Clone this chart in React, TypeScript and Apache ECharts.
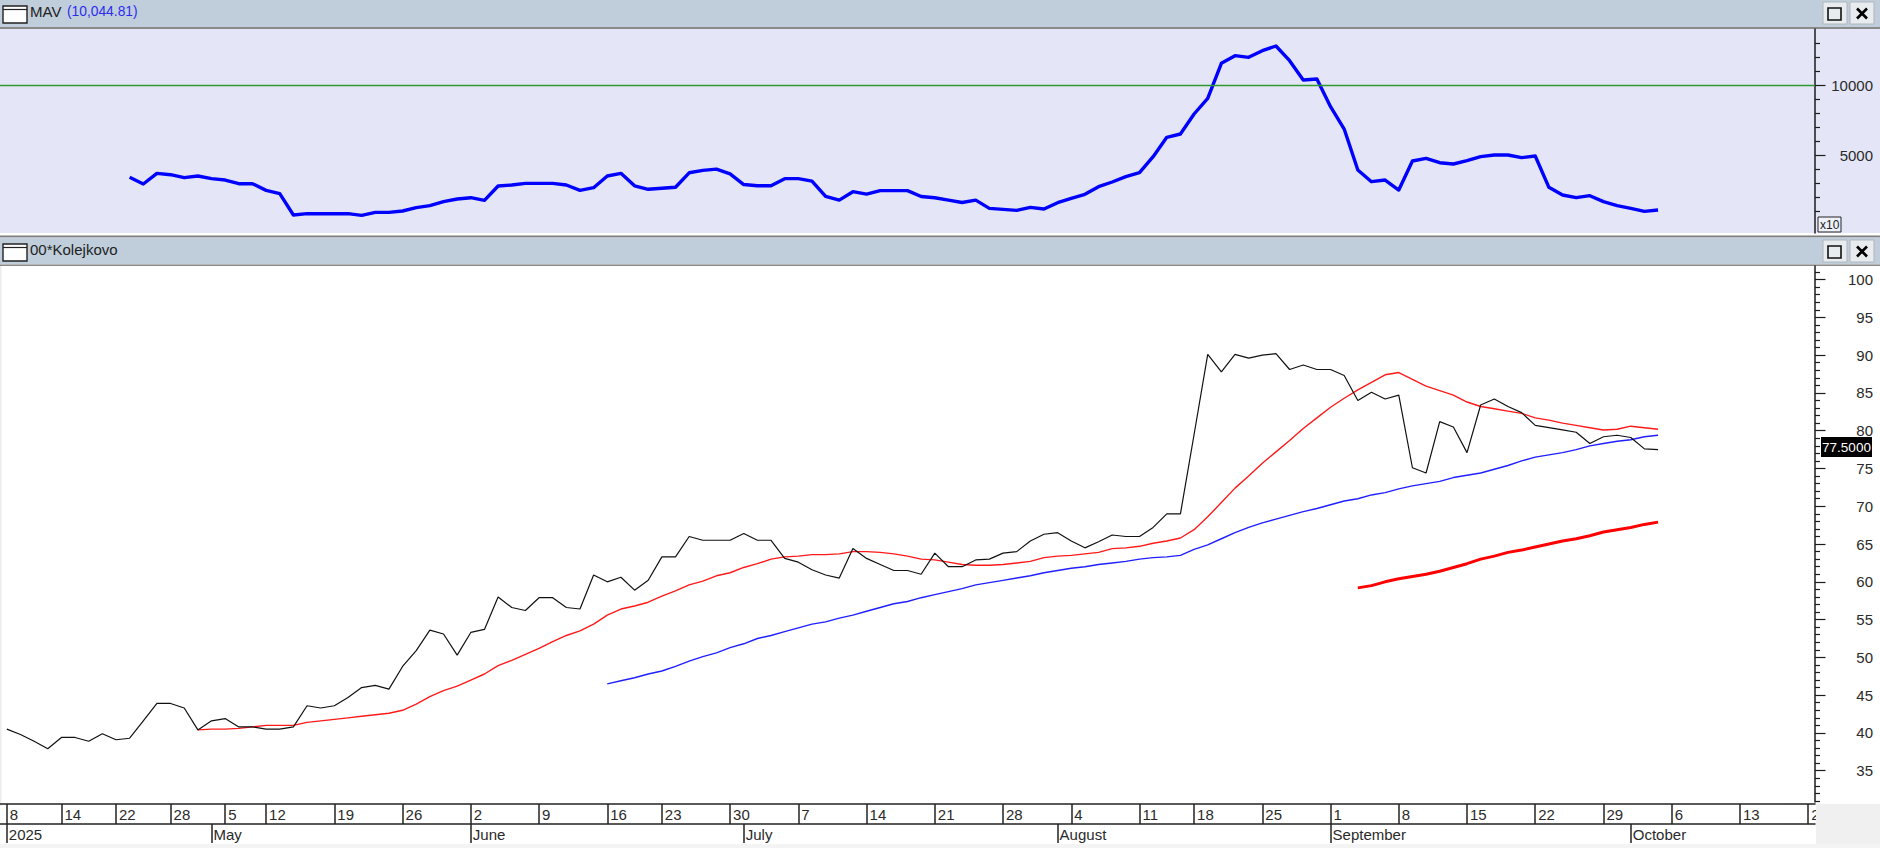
import React, { useEffect, useRef } from "react";
import * as echarts from "echarts";

const FONT = "Liberation Sans";

const tradingDays: [string, number[]][] = [
  ["04", [8, 9, 10, 11, 14, 15, 16, 17, 22, 23, 24, 25, 28, 29, 30]],
  ["05", [2, 5, 6, 7, 12, 13, 14, 15, 16, 19, 20, 21, 22, 23, 26, 27, 28, 29, 30]],
  ["06", [2, 3, 4, 5, 6, 9, 10, 11, 12, 13, 16, 17, 18, 20, 23, 24, 25, 26, 27, 30]],
  ["07", [1, 2, 3, 4, 7, 8, 9, 10, 11, 14, 15, 16, 17, 18, 21, 22, 23, 24, 25, 28, 29, 30, 31]],
  ["08", [1, 4, 5, 6, 7, 8, 11, 12, 13, 14, 18, 19, 20, 21, 22, 25, 26, 27, 28, 29]],
  ["09", [1, 2, 3, 4, 5, 8, 9, 10, 11, 12, 15, 16, 17, 18, 19, 22, 23, 24, 25, 26, 29, 30]],
  ["10", [1, 2, 3, 6, 7, 8, 9, 10, 13, 14, 15, 16, 17, 20]],
];
const categories = tradingDays.flatMap(([m, ds]) => ds.map((d) => `2025-${m}-${String(d).padStart(2, "0")}`));

const weekStarts = [
  "2025-04-08", "2025-04-14", "2025-04-22", "2025-04-28", "2025-05-05", "2025-05-12", "2025-05-19", "2025-05-26",
  "2025-06-02", "2025-06-09", "2025-06-16", "2025-06-23", "2025-06-30", "2025-07-07", "2025-07-14", "2025-07-21",
  "2025-07-28", "2025-08-04", "2025-08-11", "2025-08-18", "2025-08-25", "2025-09-01", "2025-09-08", "2025-09-15",
  "2025-09-22", "2025-09-29", "2025-10-06", "2025-10-13", "2025-10-20",
];
const monthStarts: Record<string, string> = {
  "2025-04-08": "2025", "2025-05-02": "May", "2025-06-02": "June", "2025-07-01": "July",
  "2025-08-01": "August", "2025-09-01": "September", "2025-10-01": "October",
};

const closeValues = [
  40.5, 39.8, 38.9, 37.9, 39.4, 39.4, 38.9, 39.9, 39.1, 39.3, 41.6, 43.9, 43.9, 43.3, 40.4, 41.6, 41.9, 40.8, 40.8, 40.5,
  40.5, 40.8, 43.6, 43.3, 43.6, 44.7, 46.0, 46.3, 45.8, 48.8, 50.9, 53.6, 53.1, 50.3, 53.3, 53.7, 58.0, 56.6, 56.2, 57.9,
  57.9, 56.6, 56.4, 60.9, 60.0, 60.6, 58.9, 60.2, 63.3, 63.3, 66.0, 65.5, 65.5, 65.5, 66.4, 65.5, 65.5, 63.1, 62.6, 61.6,
  60.9, 60.5, 64.4, 63.1, 62.3, 61.5, 61.5, 61.0, 63.8, 62.0, 62.0, 62.9, 63.0, 63.8, 64.0, 65.4, 66.3, 66.5, 65.4, 64.5,
  65.3, 66.2, 66.0, 66.0, 67.2, 69.0, 69.0, 79.5, 90.1, 87.8, 90.1, 89.6, 90.0, 90.2, 88.1, 88.7, 88.1, 88.1, 87.3, 84.0,
  85.1, 84.2, 84.7, 75.1, 74.4, 81.2, 80.5, 77.1, 83.4, 84.2, 83.2, 82.4, 80.7, 80.4, 80.1, 79.8, 78.3, 79.2, 79.4, 79.1,
  77.6, 77.5,
];
const fastAvgStart = 14;
const fastAvg = [
  40.4, 40.5, 40.5, 40.6, 40.8, 41.0, 41.0, 41.0, 41.4, 41.6, 41.8, 42.0, 42.2, 42.4, 42.6, 43.0, 43.8, 44.8, 45.6, 46.2,
  47.0, 47.8, 48.9, 49.6, 50.4, 51.2, 52.1, 52.9, 53.5, 54.4, 55.6, 56.4, 56.8, 57.3, 58.1, 58.8, 59.6, 60.1, 60.8, 61.2,
  61.9, 62.4, 63.0, 63.3, 63.4, 63.6, 63.6, 63.7, 64.0, 64.0, 63.9, 63.7, 63.4, 63.0, 62.9, 62.6, 62.3, 62.2, 62.2, 62.3,
  62.5, 62.7, 63.2, 63.4, 63.5, 63.7, 63.9, 64.4, 64.5, 64.7, 65.1, 65.4, 65.8, 66.9, 68.6, 70.5, 72.4, 74.0, 75.7, 77.2,
  78.7, 80.3, 81.7, 83.1, 84.3, 85.4, 86.4, 87.4, 87.7, 86.8, 85.9, 85.3, 84.7, 83.8, 83.2, 82.9, 82.6, 82.3, 81.7, 81.4,
  81.0, 80.7, 80.4, 80.1, 80.2, 80.6, 80.4, 80.2,
];
const slowAvgStart = 44;
const slowAvg = [
  46.5, 46.9, 47.3, 47.8, 48.2, 48.8, 49.5, 50.1, 50.6, 51.3, 51.8, 52.5, 52.9, 53.4, 53.9, 54.4, 54.7, 55.2, 55.6, 56.1,
  56.6, 57.1, 57.4, 57.9, 58.3, 58.7, 59.1, 59.6, 59.9, 60.2, 60.5, 60.8, 61.2, 61.5, 61.8, 62.0, 62.3, 62.5, 62.7, 63.0,
  63.2, 63.3, 63.5, 64.3, 64.9, 65.7, 66.5, 67.2, 67.8, 68.3, 68.8, 69.3, 69.7, 70.2, 70.7, 71.0, 71.5, 71.8, 72.3, 72.7,
  73.0, 73.3, 73.8, 74.1, 74.4, 74.9, 75.4, 76.0, 76.5, 76.8, 77.1, 77.5, 78.0, 78.3, 78.6, 78.8, 79.2, 79.4,
];
const longAvgStart = 99;
const longAvg = [
  59.2, 59.5, 60.0, 60.4, 60.7, 61.0, 61.4, 61.9, 62.4, 63.0, 63.4, 63.9, 64.2, 64.6, 65.0, 65.4, 65.7, 66.1, 66.6, 66.9,
  67.2, 67.6, 67.9,
];
const mavStart = 9;
const mavValues = [
  3405, 2928, 3690, 3595, 3381, 3500, 3310, 3214, 2952, 2952, 2476, 2238, 714, 810, 810, 810, 810, 690, 905, 905,
  1000, 1238, 1381, 1667, 1857, 1952, 1762, 2786, 2857, 2976, 2976, 2976, 2857, 2476, 2667, 3500, 3690, 2800, 2550, 2630,
  2700, 3730, 3900, 3990, 3650, 2890, 2800, 2800, 3310, 3310, 3140, 2040, 1780, 2380, 2210, 2460, 2460, 2460, 2040, 1950,
  1780, 1610, 1780, 1190, 1119, 1048, 1262, 1143, 1595, 1905, 2191, 2738, 3072, 3453, 3738, 4881, 6262, 6500, 7929, 9048,
  11548, 12096, 11977, 12453, 12786, 11738, 10357, 10429, 8453, 6857, 3929, 3095, 3214, 2500, 4571, 4762, 4452, 4357, 4596, 4881,
  5000, 5000, 4810, 4929, 2691, 2143, 1952, 2095, 1667, 1381, 1191, 976, 1072,
];
const mavReference = 10000;
const lastCloseLabel = "77.5000";

const mavMajor = [5000, 10000];
const mavMinor = [1000, 2000, 3000, 4000, 6000, 7000, 8000, 9000, 11000, 12000, 13000];
const priceMajor = [35, 40, 45, 50, 55, 60, 65, 70, 75, 80, 85, 90, 95, 100];
const priceMinor = [
  31, 32, 33, 34, 36, 37, 38, 39, 41, 42, 43, 44, 46, 47, 48, 49, 51, 52, 53, 54, 56, 57, 58, 59, 61, 62, 63, 64, 66, 67,
  68, 69, 71, 72, 73, 74, 76, 77, 78, 79, 81, 82, 83, 84, 86, 87, 88, 89, 91, 92, 93, 94, 96, 97, 98, 99, 101,
];

const pad = (start: number, vals: number[]) => [...new Array(start).fill(null), ...vals];

const BAR = "#c0cedb";
const INK = "#1c1c1c";
const PANEL_W = 1815;
const MAV_RANGE = { min: -570, max: 14000 };
const PRICE_RANGE = { min: 30.86, max: 101.8 };

function chrome(yOff: number, z: number) {
  return [
    { type: "rect", z, shape: { x: 3, y: yOff + 6, width: 24, height: 17 }, style: { fill: "#fff", stroke: "#222", lineWidth: 1.4 } },
    { type: "line", z, shape: { x1: 3, y1: yOff + 9.5, x2: 27, y2: yOff + 9.5 }, style: { stroke: "#222", lineWidth: 1.2 } },
    { type: "rect", z, shape: { x: 1823, y: yOff + 2, width: 24, height: 22 }, style: { fill: "#e9ecef", stroke: "#b0b6bc", lineWidth: 1 } },
    { type: "rect", z, shape: { x: 1850, y: yOff + 2, width: 24, height: 22 }, style: { fill: "#e9ecef", stroke: "#b0b6bc", lineWidth: 1 } },
    { type: "rect", z, shape: { x: 1828, y: yOff + 8, width: 13, height: 12 }, style: { fill: "none", stroke: "#111", lineWidth: 1.6 } },
    { type: "line", z, shape: { x1: 1857, y1: yOff + 8.5, x2: 1867, y2: yOff + 18.5 }, style: { stroke: "#000", lineWidth: 2.6 } },
    { type: "line", z, shape: { x1: 1867, y1: yOff + 8.5, x2: 1857, y2: yOff + 18.5 }, style: { stroke: "#000", lineWidth: 2.6 } },
  ];
}

function yAxes(gridIndex: number, range: { min: number; max: number }, major: number[], minor: number[]) {
  const base = { type: "value", gridIndex, position: "right", ...range, splitLine: { show: false } };
  return [
    {
      ...base,
      axisLine: { show: true, onZero: false, lineStyle: { color: INK, width: 1.5 } },
      axisTick: { show: true, length: 10.5, customValues: major, lineStyle: { color: INK, width: 1.2 } },
      axisLabel: {
        show: true, customValues: major, align: "right", margin: 58, color: "#2a2a2a", fontFamily: FONT, fontSize: 15,
        padding: [3, 0, 0, 0], formatter: (v: number) => String(v),
      },
    },
    {
      ...base,
      axisLine: { show: false },
      axisTick: { show: true, length: 5, customValues: minor, lineStyle: { color: INK, width: 1.2 } },
      axisLabel: { show: false },
    },
  ];
}

export default function App() {
  const ref = useRef<HTMLDivElement>(null);
  useEffect(() => {
    document.documentElement.style.margin = "0";
    document.body.style.margin = "0";
    document.body.style.overflow = "hidden";
    const chart = echarts.init(ref.current!, undefined, { renderer: "svg" });
    const weekSet = new Set(weekStarts);
    const dayOf = (v: string) => String(Number(v.slice(8)));
    const lineBase = { type: "line", showSymbol: false, symbol: "none", silent: true, connectNulls: false };
    const dateAxisBase = {
      type: "category", gridIndex: 1, position: "bottom", data: categories, boundaryGap: true,
    };
    chart.setOption({
      animation: false,
      backgroundColor: "#ffffff",
      tooltip: { show: false },
      grid: [
        { left: 0, width: PANEL_W, top: 29, height: 204 },
        { left: 0, width: PANEL_W, top: 266, height: 536 },
      ],
      xAxis: [
        { type: "category", gridIndex: 0, data: categories, boundaryGap: true, show: false },
        {
          ...dateAxisBase,
          offset: 2,
          axisLine: { show: true, onZero: false, lineStyle: { color: "#222", width: 1.5 } },
          axisTick: {
            show: true, alignWithLabel: true, length: 20, lineStyle: { color: "#222", width: 1.5 },
            interval: (_i: number, v: string) => weekSet.has(v),
          },
          axisLabel: {
            show: true, align: "left", margin: 2.5, padding: [0, 0, 0, 3], color: "#2a2a2a", fontFamily: FONT, fontSize: 15,
            interval: (_i: number, v: string) => weekSet.has(v),
            formatter: (v: string) => dayOf(v),
          },
        },
        {
          ...dateAxisBase,
          offset: 22,
          axisLine: { show: true, onZero: false, lineStyle: { color: "#222", width: 1.5 } },
          axisTick: {
            show: true, alignWithLabel: true, length: 19, lineStyle: { color: "#222", width: 1.5 },
            interval: (_i: number, v: string) => v in monthStarts,
          },
          axisLabel: {
            show: true, align: "left", margin: 2.5, padding: [0, 0, 0, 2], color: "#2a2a2a", fontFamily: FONT, fontSize: 15,
            interval: (_i: number, v: string) => v in monthStarts,
            formatter: (v: string) => monthStarts[v] ?? "",
          },
        },
      ],
      yAxis: [
        ...yAxes(0, MAV_RANGE, mavMajor, mavMinor),
        ...yAxes(1, PRICE_RANGE, priceMajor, priceMinor),
      ],
      series: [
        {
          ...lineBase, name: "MAV", xAxisIndex: 0, yAxisIndex: 0, data: pad(mavStart, mavValues),
          lineStyle: { color: "#0000ff", width: 3.4, join: "round" },
          markLine: {
            silent: true, symbol: "none", label: { show: false }, animation: false,
            lineStyle: { color: "#2e9a2e", width: 1.4, type: "solid" },
            data: [{ yAxis: mavReference }],
          },
        },
        { ...lineBase, name: "Long average", xAxisIndex: 1, yAxisIndex: 2, data: pad(longAvgStart, longAvg), lineStyle: { color: "#ff0000", width: 3 } },
        { ...lineBase, name: "Slow average", xAxisIndex: 1, yAxisIndex: 2, data: pad(slowAvgStart, slowAvg), lineStyle: { color: "#2020ff", width: 1.4 } },
        { ...lineBase, name: "Fast average", xAxisIndex: 1, yAxisIndex: 2, data: pad(fastAvgStart, fastAvg), lineStyle: { color: "#ff1a1a", width: 1.4 } },
        { ...lineBase, name: "00*Kolejkovo", xAxisIndex: 1, yAxisIndex: 2, data: closeValues, lineStyle: { color: "#111", width: 1.2 } },
      ],
      graphic: {
        elements: [
          { type: "rect", z: -10, shape: { x: 0, y: 0, width: 1880, height: 27 }, style: { fill: BAR } },
          { type: "rect", z: -10, shape: { x: 0, y: 27, width: 1880, height: 2 }, style: { fill: "#8a8a8a" } },
          { type: "rect", z: -10, shape: { x: 0, y: 29, width: 1880, height: 204 }, style: { fill: "#e4e6f8" } },
          { type: "rect", z: -10, shape: { x: 0, y: 235.5, width: 1880, height: 2 }, style: { fill: "#7d7d7d" } },
          { type: "rect", z: -10, shape: { x: 0, y: 237.5, width: 1880, height: 27 }, style: { fill: BAR } },
          { type: "rect", z: -10, shape: { x: 0, y: 264.5, width: 1880, height: 1.5 }, style: { fill: "#8a8a8a" } },
          { type: "rect", z: -10, shape: { x: 0, y: 266, width: 1.5, height: 540 }, style: { fill: "#ececec" } },
          { type: "rect", z: 100, shape: { x: PANEL_W + 1, y: 804, width: 64, height: 44 }, style: { fill: "#f0f0f0" } },
          { type: "rect", z: 100, shape: { x: 0, y: 844, width: 1880, height: 4 }, style: { fill: "#f4f4f4" } },
          ...chrome(0, 30),
          ...chrome(238, 30),
          { type: "text", z: 30, x: 30, y: 11, style: { text: "MAV", fill: "#222", font: `15px "${FONT}"`, verticalAlign: "middle" } },
          { type: "text", z: 30, x: 67, y: 11, style: { text: "(10,044.81)", fill: "#2b2bf0", font: `13.8px "${FONT}"`, verticalAlign: "middle" } },
          { type: "text", z: 30, x: 30, y: 249, style: { text: "00*Kolejkovo", fill: "#222", font: `15px "${FONT}"`, verticalAlign: "middle" } },
          { type: "rect", z: 30, shape: { x: 1818, y: 217, width: 23, height: 15 }, style: { fill: "#eef0fa", stroke: "#222", lineWidth: 1 } },
          { type: "text", z: 31, x: 1820, y: 225, style: { text: "x10", fill: "#222", font: `12px "${FONT}"`, verticalAlign: "middle" } },
          { type: "rect", z: 40, shape: { x: 1821, y: 437, width: 51, height: 20 }, style: { fill: "#000" } },
          { type: "text", z: 41, x: 1846.5, y: 447, style: { text: lastCloseLabel, fill: "#fff", font: `13.5px "${FONT}"`, align: "center", verticalAlign: "middle" } },
        ],
      },
    });
    return () => chart.dispose();
  }, []);
  return <div ref={ref} style={{ display: "block", width: 1880, height: 848 }} />;
}
